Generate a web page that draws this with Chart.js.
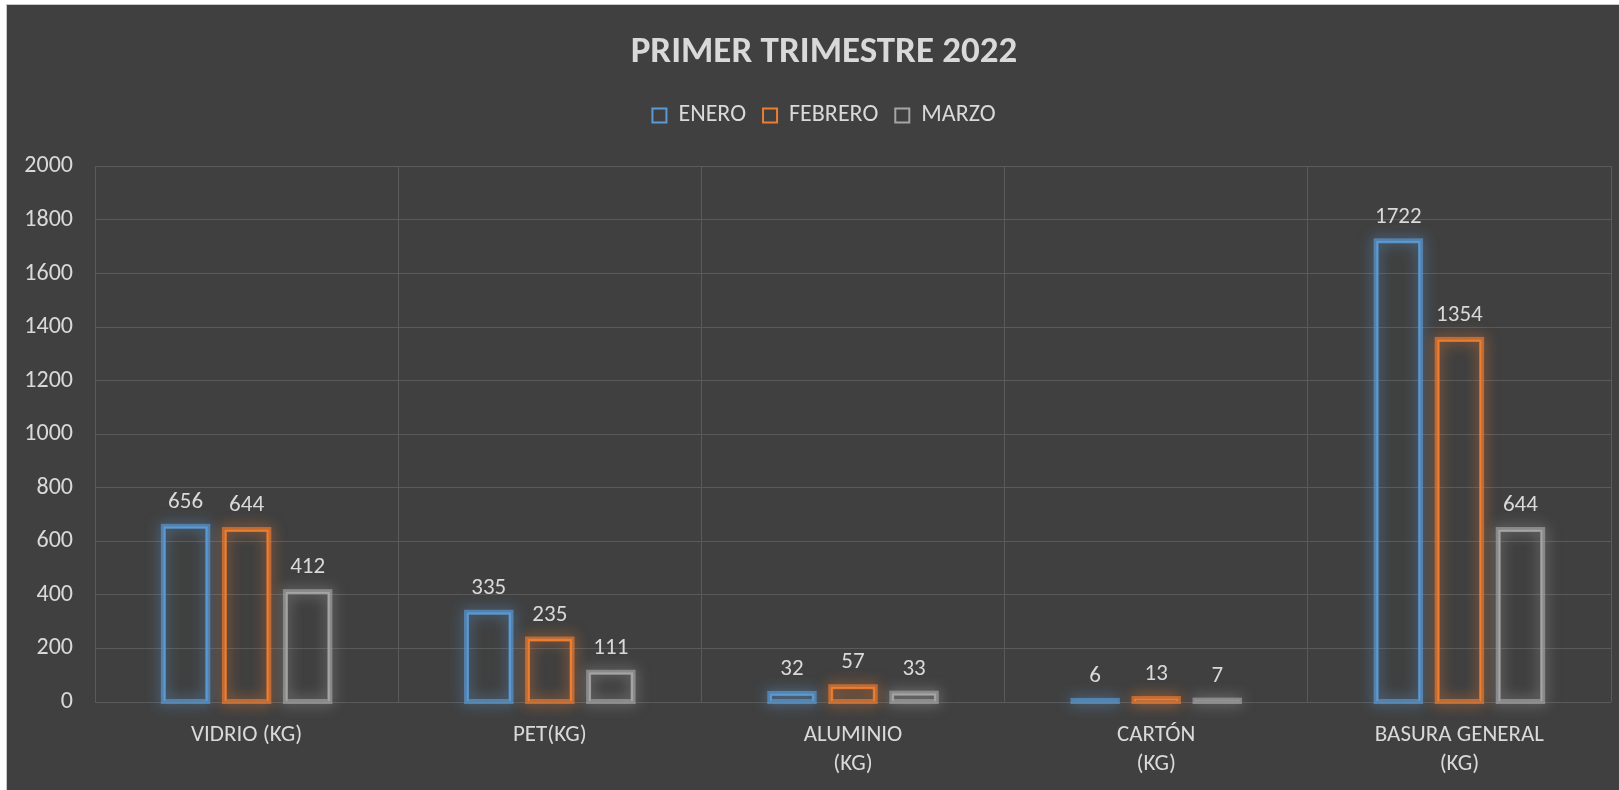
<!DOCTYPE html>
<html>
<head>
<meta charset="utf-8">
<script src="https://cdn.jsdelivr.net/npm/chart.js@4.4.0/dist/chart.umd.min.js"></script>
<style>
  html, body { margin: 0; padding: 0; background: #ffffff; overflow: hidden; }
  #marco {
    position: absolute; left: 6px; top: 4px;
    width: 1612px; height: 785px;
    background: #404040;
    border-left: 1px solid #c8c8c8;
    border-top: 1px solid #c8c8c8;
  }
  canvas { display: block; }
</style>
</head>
<body>
<div id="marco"><canvas id="grafico" width="1612" height="785"></canvas></div>
<script>
/*********-datos-*********/
const CATEGORIAS = ["VIDRIO (KG)", "PET(KG)", ["ALUMINIO", "(KG)"], ["CARTÓN", "(KG)"], ["BASURA GENERAL", "(KG)"]];
const MESES = ["ENERO", "FEBRERO", "MARZO"];
const ENERO = [656, 335, 32, 6, 1722];
const FEBRERO = [644, 235, 57, 13, 1354];
const MARZO = [412, 111, 33, 7, 644];
const COLORES = ["#5B9BD5", "#ED7D31", "#A5A5A5"];
const EJE_Y_MIN = 0;
const EJE_Y_MAX = 2000;
const EJE_Y_PASO = 200;
//------------------------------------//

const TEXTO = "#D9D9D9";
const REJILLA = "#5A5A5A";
const FUENTE = "Calibri, Carlito, Lato, sans-serif";
Chart.defaults.font.family = FUENTE;
Chart.defaults.color = TEXTO;

// brillo alrededor de cada barra (como el efecto de excel)
const brillo = {
  id: "brillo",
  beforeDatasetsDraw(chart) {
    const ctx = chart.ctx;
    chart.data.datasets.forEach((ds, i) => {
      const meta = chart.getDatasetMeta(i);
      ctx.save();
      ctx.shadowColor = ds.borderColor;
      ctx.shadowBlur = 14;
      ctx.strokeStyle = ds.borderColor + "AA";
      ctx.lineWidth = 5;
      meta.data.forEach(bar => {
        const w = bar.width;
        ctx.strokeRect(bar.x - w / 2, bar.y, w, bar.base - bar.y);
      });
      ctx.restore();
    });
  }
};

// etiquetas de valor encima de las barras
const etiquetas = {
  id: "etiquetas",
  afterDatasetsDraw(chart) {
    const ctx = chart.ctx;
    ctx.save();
    ctx.font = "23px " + FUENTE;
    ctx.fillStyle = TEXTO;
    ctx.textAlign = "center";
    ctx.textBaseline = "middle";
    chart.data.datasets.forEach((ds, i) => {
      chart.getDatasetMeta(i).data.forEach((bar, j) => {
        ctx.fillText(ds.data[j], bar.x, bar.y - 24);
      });
    });
    ctx.restore();
  }
};

// deja mas aire debajo de la leyenda y centra titulo y leyenda como en excel
const ajusteCabecera = {
  id: "ajusteCabecera",
  afterInit(chart) {
    const fitOriginal = chart.legend.fit;
    chart.legend.fit = function () {
      fitOriginal.call(this);
      this.height += 29;
    };
  },
  afterLayout(chart) {
    [chart.titleBlock, chart.legend].forEach(caja => {
      if (!caja) return;
      caja.left += 15;
      caja.right += 15;
    });
  }
};

const SERIES = [ENERO, FEBRERO, MARZO];
const datos = {
  labels: CATEGORIAS,
  datasets: MESES.map((mes, i) => ({
    label: mes,
    data: SERIES[i],
    backgroundColor: "rgba(0,0,0,0)",
    borderColor: COLORES[i],
    borderWidth: 2,
    categoryPercentage: 0.604,
    barPercentage: 0.728
  }))
};

new Chart(document.getElementById("grafico").getContext("2d"), {
  type: "bar",
  data: datos,
  options: {
    responsive: false,
    animation: false,
    layout: { padding: { left: 0, right: 8, top: 0, bottom: 10 } },
    plugins: {
      title: {
        display: true,
        text: "PRIMER TRIMESTRE 2022",
        color: TEXTO,
        font: { size: 37, weight: "bold" },
        padding: { top: 26, bottom: 11 }
      },
      legend: {
        position: "top",
        labels: {
          color: TEXTO,
          font: { size: 24 },
          boxWidth: 14,
          boxHeight: 14,
          padding: 17
        }
      },
      tooltip: { enabled: false }
    },
    scales: {
      x: {
        grid: { color: REJILLA, drawTicks: false, offset: true },
        border: { display: false },
        ticks: { color: TEXTO, font: { size: 23, lineHeight: 1.25 }, padding: 19, maxRotation: 0 },
        afterFit(scale) { scale.height = 78; }
      },
      y: {
        min: EJE_Y_MIN,
        max: EJE_Y_MAX,
        grid: { color: REJILLA, drawTicks: false },
        border: { display: false },
        ticks: {
          stepSize: EJE_Y_PASO,
          color: TEXTO,
          font: { size: 24 },
          padding: 22,
          callback: v => String(v)
        },
        afterFit(scale) { scale.width = 88; }
      }
    }
  },
  plugins: [brillo, etiquetas, ajusteCabecera]
});
</script>
</body>
</html>
